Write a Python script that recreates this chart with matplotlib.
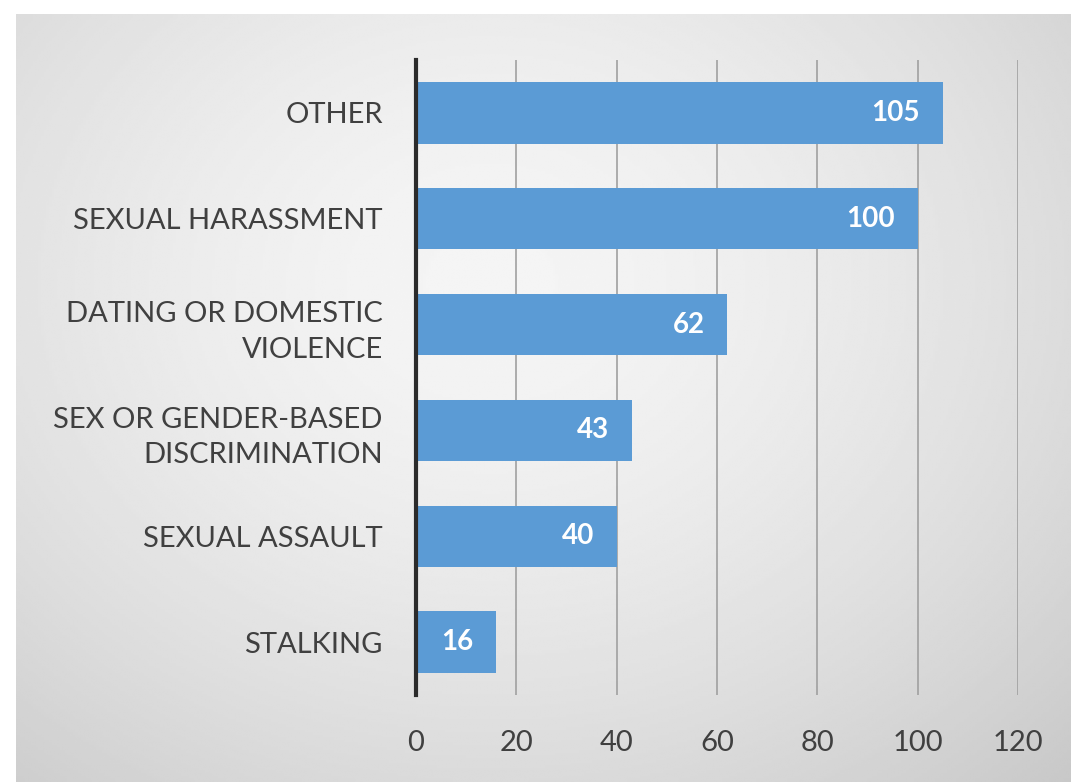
import numpy as np
import matplotlib.pyplot as plt

# data (top to bottom as in the chart)
categories = ['OTHER', 'SEXUAL HARASSMENT', 'DATING OR DOMESTIC\nVIOLENCE',
              'SEX OR GENDER-BASED\nDISCRIMINATION', 'SEXUAL ASSAULT', 'STALKING']
counts = [105, 100, 62, 43, 40, 16]
xticks = [0, 20, 40, 60, 80, 100, 120]

plt.rcParams['font.family'] = ['Lato', 'DejaVu Sans']

W, H = 1071, 782
fig = plt.figure(figsize=(W / 100, H / 100), dpi=100)
fig.patch.set_facecolor('white')

# gray panel with radial gradient
px0, py0 = 16, 14
bg = fig.add_axes([px0 / W, 0, 1 - px0 / W, (H - py0) / H])
yy, xx = np.mgrid[0:1:300j, 0:1:400j]
r = np.sqrt(((xx - 0.45) / 0.75) ** 2 + ((yy - 0.35) / 0.85) ** 2)
shade = 0.96 - 0.16 * np.clip(r, 0, 1.3) ** 1.6
bg.imshow(shade, cmap='gray', vmin=0, vmax=1, aspect='auto',
          extent=[0, 1, 1, 0], interpolation='bilinear')
bg.axis('off')

# main axes: x 0 at px 416, 120 at px 1018; y from 60 to 695
ax = fig.add_axes([416 / W, 1 - 695 / H, (1018 - 416) / W, (695 - 60) / H])
ax.patch.set_alpha(0)

y = np.arange(len(categories))
bars = ax.barh(y, counts, height=0.58, color='#5b9bd5', zorder=3)
ax.set_ylim(len(categories) - 0.5, -0.5)
ax.set_xlim(0, 120)
ax.set_xticks(xticks)
ax.set_yticks(y)
ax.set_yticklabels(categories, fontsize=21, color='#404040', linespacing=1.45)
ax.tick_params(axis='x', labelsize=21, labelcolor='#404040', length=0, pad=25)
ax.tick_params(axis='y', length=0, pad=24)
for lab in ax.get_yticklabels():
    lab.set_horizontalalignment('right')

ax.grid(axis='x', color='#a0a0a0', linewidth=1.2, zorder=0)
for s in ['top', 'right', 'bottom']:
    ax.spines[s].set_visible(False)
ax.spines['left'].set_color('#2b2b2b')
ax.spines['left'].set_linewidth(3)
ax.spines['left'].set_zorder(4)

for b, v in zip(bars, counts):
    ax.text(b.get_width() - 4.5, b.get_y() + b.get_height() / 2, str(v),
            ha='right', va='center', color='white', fontsize=20,
            fontweight='bold', zorder=5)

fig.savefig('out.png', dpi=100)
